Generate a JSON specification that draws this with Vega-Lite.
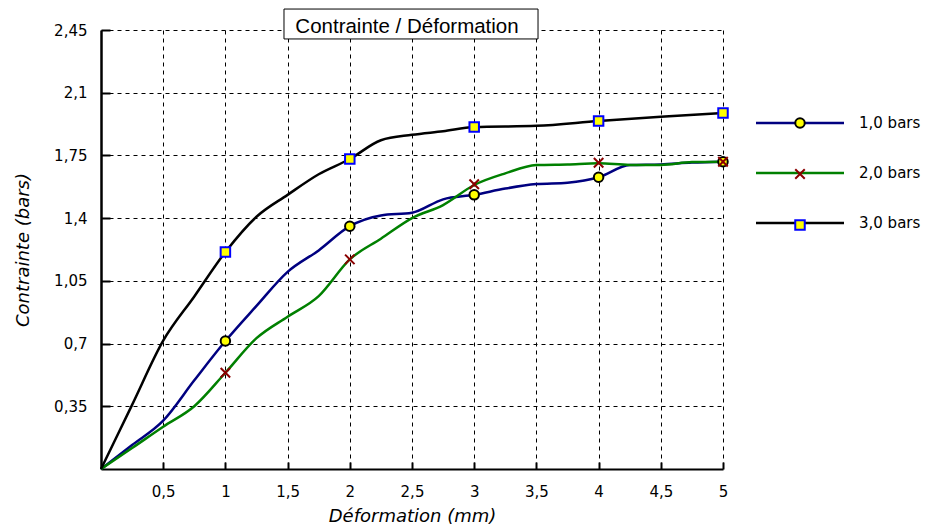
{
  "$schema": "https://vega.github.io/schema/vega-lite/v6.json",
  "width": 622,
  "height": 439,
  "autosize": {"type": "none"},
  "padding": {"left": 101, "top": 30, "right": 203, "bottom": 62},
  "background": "white",
  "config": {"view": {"stroke": null}, "font": "DejaVu Sans"},
  "title": {
    "text": "Contrainte / Déformation",
    "font": "Liberation Sans",
    "fontSize": 20.5,
    "fontWeight": "normal",
    "color": "black",
    "anchor": "middle",
    "frame": "group",
    "dx": -5,
    "offset": -45,
    "baseline": "alphabetic"
  },
  "datasets": {
    "courbes": [
      {"courbe": "1,0 bars", "deformation": 0, "contrainte": 0},
      {"courbe": "1,0 bars", "deformation": 0.25, "contrainte": 0.134},
      {"courbe": "1,0 bars", "deformation": 0.5, "contrainte": 0.27},
      {"courbe": "1,0 bars", "deformation": 0.75, "contrainte": 0.495},
      {"courbe": "1,0 bars", "deformation": 1, "contrainte": 0.714},
      {"courbe": "1,0 bars", "deformation": 1.25, "contrainte": 0.91},
      {"courbe": "1,0 bars", "deformation": 1.5, "contrainte": 1.1},
      {"courbe": "1,0 bars", "deformation": 1.75, "contrainte": 1.22},
      {"courbe": "1,0 bars", "deformation": 2, "contrainte": 1.355},
      {"courbe": "1,0 bars", "deformation": 2.25, "contrainte": 1.415},
      {"courbe": "1,0 bars", "deformation": 2.5, "contrainte": 1.43},
      {"courbe": "1,0 bars", "deformation": 2.75, "contrainte": 1.505},
      {"courbe": "1,0 bars", "deformation": 3, "contrainte": 1.53},
      {"courbe": "1,0 bars", "deformation": 3.25, "contrainte": 1.565},
      {"courbe": "1,0 bars", "deformation": 3.5, "contrainte": 1.59},
      {"courbe": "1,0 bars", "deformation": 3.75, "contrainte": 1.598},
      {"courbe": "1,0 bars", "deformation": 4, "contrainte": 1.628},
      {"courbe": "1,0 bars", "deformation": 4.25, "contrainte": 1.696},
      {"courbe": "1,0 bars", "deformation": 4.5, "contrainte": 1.7},
      {"courbe": "1,0 bars", "deformation": 4.75, "contrainte": 1.71},
      {"courbe": "1,0 bars", "deformation": 5, "contrainte": 1.715},
      {"courbe": "2,0 bars", "deformation": 0, "contrainte": 0},
      {"courbe": "2,0 bars", "deformation": 0.25, "contrainte": 0.117},
      {"courbe": "2,0 bars", "deformation": 0.5, "contrainte": 0.236},
      {"courbe": "2,0 bars", "deformation": 0.75, "contrainte": 0.35},
      {"courbe": "2,0 bars", "deformation": 1, "contrainte": 0.537},
      {"courbe": "2,0 bars", "deformation": 1.25, "contrainte": 0.73},
      {"courbe": "2,0 bars", "deformation": 1.5, "contrainte": 0.85},
      {"courbe": "2,0 bars", "deformation": 1.75, "contrainte": 0.965},
      {"courbe": "2,0 bars", "deformation": 2, "contrainte": 1.17},
      {"courbe": "2,0 bars", "deformation": 2.25, "contrainte": 1.285},
      {"courbe": "2,0 bars", "deformation": 2.5, "contrainte": 1.4},
      {"courbe": "2,0 bars", "deformation": 2.75, "contrainte": 1.473},
      {"courbe": "2,0 bars", "deformation": 3, "contrainte": 1.585},
      {"courbe": "2,0 bars", "deformation": 3.25, "contrainte": 1.65},
      {"courbe": "2,0 bars", "deformation": 3.5, "contrainte": 1.696},
      {"courbe": "2,0 bars", "deformation": 3.75, "contrainte": 1.7},
      {"courbe": "2,0 bars", "deformation": 4, "contrainte": 1.706},
      {"courbe": "2,0 bars", "deformation": 4.25, "contrainte": 1.697},
      {"courbe": "2,0 bars", "deformation": 4.5, "contrainte": 1.697},
      {"courbe": "2,0 bars", "deformation": 4.75, "contrainte": 1.713},
      {"courbe": "2,0 bars", "deformation": 5, "contrainte": 1.715},
      {"courbe": "3,0 bars", "deformation": 0, "contrainte": 0},
      {"courbe": "3,0 bars", "deformation": 0.25, "contrainte": 0.358},
      {"courbe": "3,0 bars", "deformation": 0.5, "contrainte": 0.716},
      {"courbe": "3,0 bars", "deformation": 0.75, "contrainte": 0.963},
      {"courbe": "3,0 bars", "deformation": 1, "contrainte": 1.211},
      {"courbe": "3,0 bars", "deformation": 1.25, "contrainte": 1.408},
      {"courbe": "3,0 bars", "deformation": 1.5, "contrainte": 1.53},
      {"courbe": "3,0 bars", "deformation": 1.75, "contrainte": 1.645},
      {"courbe": "3,0 bars", "deformation": 2, "contrainte": 1.73},
      {"courbe": "3,0 bars", "deformation": 2.25, "contrainte": 1.835},
      {"courbe": "3,0 bars", "deformation": 2.5, "contrainte": 1.865},
      {"courbe": "3,0 bars", "deformation": 2.75, "contrainte": 1.885},
      {"courbe": "3,0 bars", "deformation": 3, "contrainte": 1.908},
      {"courbe": "3,0 bars", "deformation": 3.5, "contrainte": 1.915},
      {"courbe": "3,0 bars", "deformation": 4, "contrainte": 1.942},
      {"courbe": "3,0 bars", "deformation": 4.5, "contrainte": 1.966},
      {"courbe": "3,0 bars", "deformation": 5, "contrainte": 1.987}
    ],
    "marqueurs": [
      {"courbe": "1,0 bars", "deformation": 1, "contrainte": 0.714},
      {"courbe": "1,0 bars", "deformation": 2, "contrainte": 1.355},
      {"courbe": "1,0 bars", "deformation": 3, "contrainte": 1.53},
      {"courbe": "1,0 bars", "deformation": 4, "contrainte": 1.628},
      {"courbe": "1,0 bars", "deformation": 5, "contrainte": 1.715},
      {"courbe": "2,0 bars", "deformation": 1, "contrainte": 0.537},
      {"courbe": "2,0 bars", "deformation": 2, "contrainte": 1.17},
      {"courbe": "2,0 bars", "deformation": 3, "contrainte": 1.589},
      {"courbe": "2,0 bars", "deformation": 4, "contrainte": 1.709},
      {"courbe": "2,0 bars", "deformation": 5, "contrainte": 1.715},
      {"courbe": "3,0 bars", "deformation": 1, "contrainte": 1.211},
      {"courbe": "3,0 bars", "deformation": 2, "contrainte": 1.73},
      {"courbe": "3,0 bars", "deformation": 3, "contrainte": 1.908},
      {"courbe": "3,0 bars", "deformation": 4, "contrainte": 1.942},
      {"courbe": "3,0 bars", "deformation": 5, "contrainte": 1.987}
    ]
  },
  "layer": [
    {
      "data": {"name": "courbes"},
      "mark": {"type": "line", "strokeWidth": 2.5, "interpolate": "monotone"},
      "encoding": {
        "x": {
          "field": "deformation",
          "type": "quantitative",
          "scale": {"domain": [0, 5], "nice": false, "zero": false},
          "axis": {
            "title": "Déformation (mm)",
            "values": [0.5, 1, 1.5, 2, 2.5, 3, 3.5, 4, 4.5, 5],
            "format": ".1~f",
            "labelExpr": "replace(datum.label, '.', ',')",
            "grid": true,
            "gridDash": [4, 4],
            "gridColor": "black",
            "gridWidth": 1,
            "gridOpacity": 1,
            "domainColor": "black",
            "domainWidth": 2,
            "tickColor": "black",
            "tickWidth": 2,
            "tickSize": -7,
            "labelPadding": 22,
            "labelFont": "DejaVu Sans",
            "labelFontSize": 15,
            "labelColor": "black",
            "labelFlush": false,
            "labelOverlap": false,
            "titleFont": "DejaVu Sans",
            "titleFontSize": 18,
            "titleFontStyle": "italic",
            "titleFontWeight": "normal",
            "titleColor": "black",
            "titlePadding": 8
          }
        },
        "y": {
          "field": "contrainte",
          "type": "quantitative",
          "scale": {"domain": [0, 2.45], "nice": false},
          "axis": {
            "title": "Contrainte (bars)",
            "values": [0.35, 0.7, 1.05, 1.4, 1.75, 2.1, 2.45],
            "format": ".2~f",
            "labelExpr": "replace(datum.label, '.', ',')",
            "grid": true,
            "gridDash": [4, 4],
            "gridColor": "black",
            "gridWidth": 1,
            "gridOpacity": 1,
            "domainColor": "black",
            "domainWidth": 2.5,
            "tickColor": "black",
            "tickWidth": 2,
            "tickSize": -9,
            "labelPadding": 23,
            "labelFont": "DejaVu Sans",
            "labelFontSize": 15,
            "labelColor": "black",
            "labelFlush": false,
            "labelOverlap": false,
            "titleFont": "DejaVu Sans",
            "titleFontSize": 18,
            "titleFontStyle": "italic",
            "titleFontWeight": "normal",
            "titleColor": "black",
            "titlePadding": 21
          }
        },
        "color": {
          "field": "courbe",
          "type": "nominal",
          "scale": {"range": ["#000080", "#008000", "#000000"]},
          "legend": {
            "title": null,
            "orient": "none",
            "legendX": 686.5,
            "legendY": 80.5,
            "padding": 0,
            "symbolType": "M-4,0H4",
            "symbolSize": 484,
            "symbolStrokeWidth": 2.5,
            "symbolFillColor": "transparent",
            "labelFont": "DejaVu Sans",
            "labelFontSize": 15,
            "labelColor": "black",
            "labelOffset": 46.5,
            "labelLimit": 200,
            "rowPadding": 29
          }
        }
      }
    },
    {
      "data": {"name": "marqueurs"},
      "mark": {"type": "point", "size": 90, "strokeWidth": 2, "opacity": 1},
      "encoding": {
        "x": {"field": "deformation", "type": "quantitative"},
        "y": {"field": "contrainte", "type": "quantitative"},
        "shape": {
          "field": "courbe",
          "type": "nominal",
          "scale": {"range": ["circle", "M-1,-1L1,1M1,-1L-1,1", "square"]},
          "legend": {
            "title": null,
            "orient": "none",
            "legendX": 691.5,
            "legendY": 85.5,
            "padding": 0,
            "symbolSize": 90,
            "symbolStrokeWidth": 2,
            "labelFont": "DejaVu Sans",
            "labelFontSize": 15,
            "labelExpr": "''",
            "rowPadding": 32
          }
        },
        "fill": {
          "field": "courbe",
          "type": "nominal",
          "scale": {"range": ["#ffff00", "#8b0000", "#ffff00"]}
        },
        "stroke": {
          "field": "courbe",
          "type": "nominal",
          "scale": {"range": ["#000000", "#8b0000", "#0000ff"]}
        }
      }
    },
    {
      "data": {"values": [{"element": "cadre du titre"}]},
      "mark": {"type": "rect", "fill": "white", "stroke": "black", "strokeWidth": 1, "clip": false},
      "encoding": {
        "x": {"datum": 1.471, "type": "quantitative"},
        "x2": {"datum": 3.513, "type": "quantitative"},
        "y": {"datum": 2.567, "type": "quantitative"},
        "y2": {"datum": 2.4, "type": "quantitative"}
      }
    }
  ]
}
